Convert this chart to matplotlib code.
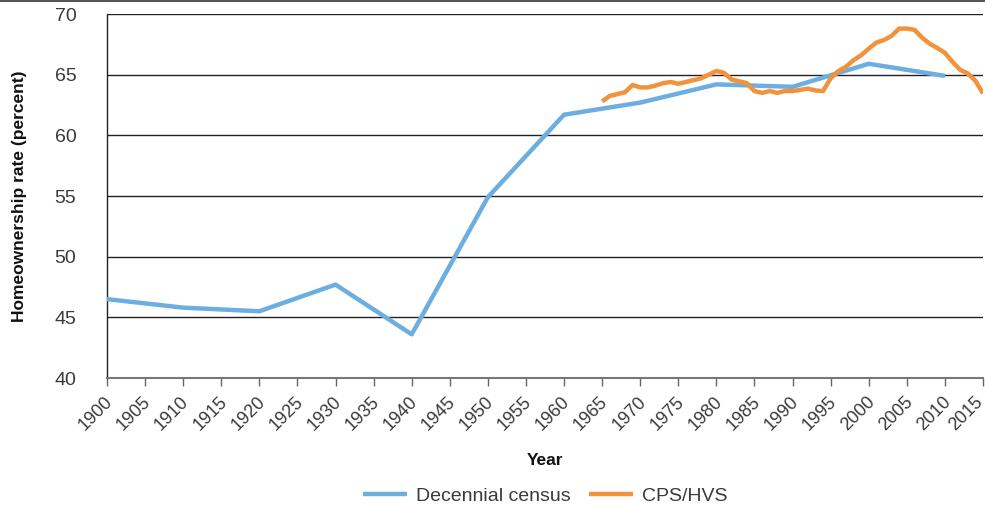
import matplotlib
matplotlib.use("Agg")
import matplotlib.pyplot as plt
from matplotlib.lines import Line2D
from matplotlib.transforms import ScaledTranslation

# decennial census
census_years = [1900, 1910, 1920, 1930, 1940, 1950, 1960, 1970, 1980, 1990, 2000, 2010]
census_rate = [46.5, 45.8, 45.5, 47.7, 43.6, 54.9, 61.7, 62.7, 64.2, 64.0, 65.9, 64.9]

# CPS/HVS annual
cps_years = list(range(1965, 2016))
cps_rate = [62.8, 63.25, 63.4, 63.55, 64.15, 63.95, 63.95, 64.1, 64.3, 64.4,
            64.25, 64.4, 64.55, 64.7, 65.0, 65.3, 65.15, 64.6, 64.45, 64.3,
            63.65, 63.5, 63.65, 63.5, 63.65, 63.65, 63.75, 63.85, 63.7, 63.65,
            64.7, 65.3, 65.65, 66.2, 66.6, 67.15, 67.65, 67.85, 68.2, 68.8,
            68.8, 68.7, 68.05, 67.55, 67.2, 66.8, 66.05, 65.4, 65.1, 64.5,
            63.45]

xticks = list(range(1900, 2016, 5))
yticks = [40, 45, 50, 55, 60, 65, 70]

plt.rcParams['font.family'] = ['Liberation Sans', 'DejaVu Sans']

fig = plt.figure(figsize=(9.85, 5.08), dpi=100)
ax = fig.add_axes([0.1086, 0.2559, 0.8894, 0.7165])

blue = '#6caee0'
orange = '#f3923c'
ax.plot(census_years, census_rate, color=blue, lw=3.2, solid_capstyle='butt',
        label='Decennial census', zorder=3)
ax.plot(cps_years, cps_rate, color=orange, lw=3.2, solid_capstyle='butt',
        label='CPS/HVS', zorder=4)

ax.set_xlim(1900, 2015)
ax.set_ylim(40, 70)
ax.set_xticks(xticks)
ax.set_xticklabels([str(y) for y in xticks], rotation=45, ha='right',
                   rotation_mode='anchor', fontsize=13, color='#3a3a3a')
ax.set_yticks(yticks)
ax.set_yticklabels([str(y) for y in yticks], fontsize=14, color='#3a3a3a')
ax.tick_params(axis='y', length=0, pad=22)
ax.tick_params(axis='x', length=6, width=1, color='#666666', direction='out', pad=5)

# nudge rotated year labels left so the top corner sits at the tick
labs = ax.get_xticklabels()
for i, lab in enumerate(labs):
    dx = -6 if i == len(labs) - 1 else -2
    lab.set_transform(lab.get_transform() + ScaledTranslation(dx / 72, 0, fig.dpi_scale_trans))

for y in yticks[1:]:
    ax.axhline(y, color='#222222', lw=1.0, zorder=1)

for s in ['top', 'right']:
    ax.spines[s].set_visible(False)
ax.spines['left'].set_color('#222222')
ax.spines['left'].set_linewidth(1.0)
ax.spines['bottom'].set_color('#777777')
ax.spines['bottom'].set_linewidth(1.5)

ax.set_ylabel('Homeownership rate (percent)', fontsize=12.5, fontweight='bold',
              color='#111111', labelpad=20)
ax.set_xlabel('Year', fontsize=12.5, fontweight='bold', color='#111111', labelpad=14)

ax.legend(loc='center', bbox_to_anchor=(0.5, -0.325), ncol=2, frameon=False,
          fontsize=14, handlelength=2.27, handletextpad=0.46, columnspacing=0.95,
          labelcolor='#3a3a3a')

fig.add_artist(Line2D([0, 1], [0.998, 0.998], color='#333333', lw=1.2,
                      transform=fig.transFigure))

fig.savefig('out.png', dpi=100)
